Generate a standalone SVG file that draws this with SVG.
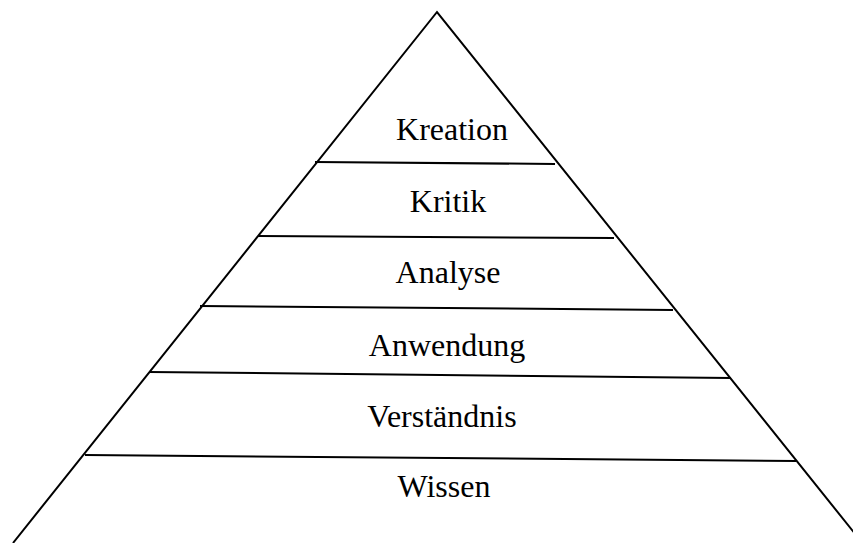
<svg xmlns="http://www.w3.org/2000/svg" width="853" height="543" viewBox="0 0 853 543">
<style>
.l{stroke:#000;stroke-width:2;fill:none}
.t{font-family:"Liberation Serif","Times New Roman",serif;font-size:32px;text-anchor:middle;fill:#000}
</style>
<rect width="853" height="543" fill="#fff"/>
<g id="connectors">
<polyline class="l" points="13,543 437,12 856,535"/>
<line class="l" x1="315" y1="162" x2="555" y2="164"/>
<line class="l" x1="258" y1="236" x2="614" y2="238"/>
<line class="l" x1="200" y1="306" x2="673" y2="310"/>
<line class="l" x1="149" y1="372" x2="731" y2="378"/>
<line class="l" x1="85" y1="455" x2="796" y2="461"/>
</g>
<g id="kreation"><text class="t" x="452" y="140">Kreation</text></g>
<g id="kritik"><text class="t" x="448" y="212">Kritik</text></g>
<g id="analyse"><text class="t" x="448" y="283">Analyse</text></g>
<g id="anwendung"><text class="t" x="447" y="356">Anwendung</text></g>
<g id="verstaendnis"><text class="t" x="442" y="427">Verständnis</text></g>
<g id="wissen"><text class="t" x="444" y="497">Wissen</text></g>
</svg>
